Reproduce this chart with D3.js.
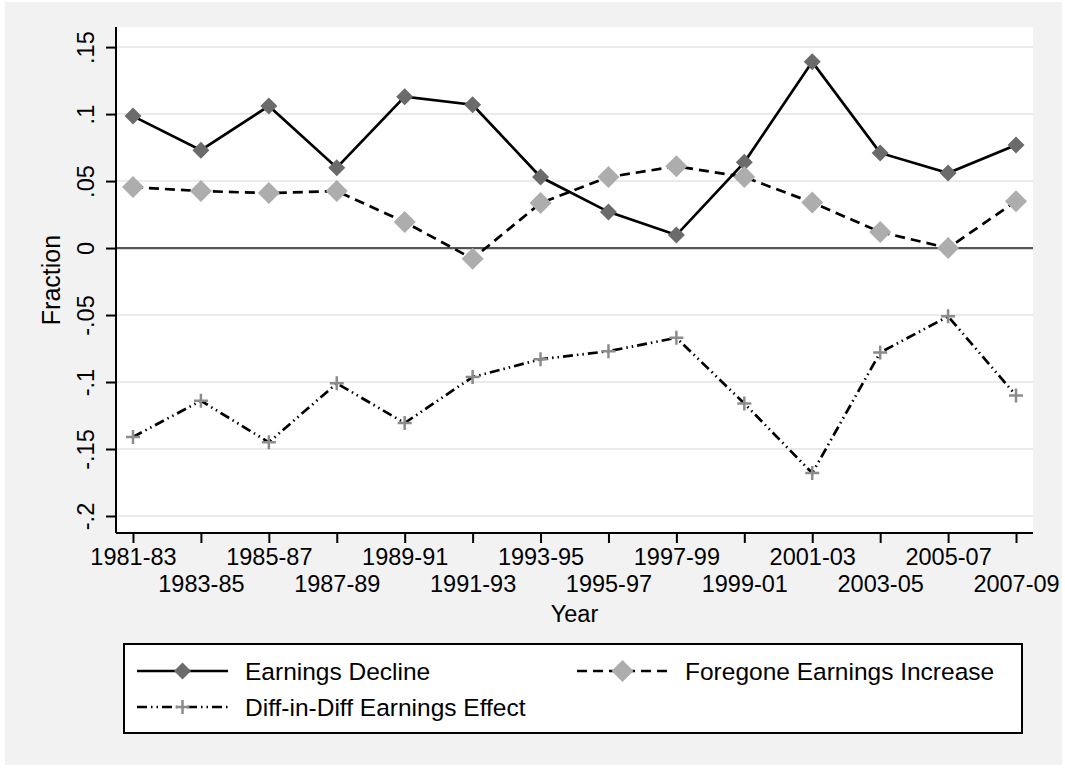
<!DOCTYPE html>
<html>
<head>
<meta charset="utf-8">
<script src="https://cdn.jsdelivr.net/npm/d3@7"></script>
<style>
  html, body { margin: 0; padding: 0; background: #ffffff; }
  svg { display: block; }
  text { font-family: "Liberation Sans", Arial, Helvetica, sans-serif; fill: #000; }
</style>
</head>
<body>
<svg id="chart" width="1065" height="768"></svg>
<script>
const categories = ["1981-83","1983-85","1985-87","1987-89","1989-91","1991-93","1993-95",
                    "1995-97","1997-99","1999-01","2001-03","2003-05","2005-07","2007-09"];
const earningsDecline = [0.0985, 0.073, 0.106, 0.060, 0.113, 0.107, 0.053,
                         0.027, 0.0097, 0.064, 0.139, 0.071, 0.056, 0.077];
const foregoneIncrease = [0.0455, 0.0425, 0.041, 0.0425, 0.0194, -0.008, 0.0336,
                          0.053, 0.061, 0.053, 0.034, 0.012, 0.0, 0.035];
const diffInDiff = [-0.141, -0.114, -0.145, -0.101, -0.1306, -0.0963, -0.083,
                    -0.077, -0.067, -0.116, -0.168, -0.078, -0.051, -0.110];
const yTicks = [-0.2, -0.15, -0.1, -0.05, 0, 0.05, 0.1, 0.15];
const yTickLabels = ["-.2", "-.15", "-.1", "-.05", "0", ".05", ".1", ".15"];
const legendLabels = ["Earnings Decline", "Foregone Earnings Increase", "Diff-in-Diff Earnings Effect"];
const axisTitles = { x: "Year", y: "Fraction" };

const svg = d3.select("#chart");
const plot = { left: 116, right: 1033, top: 27, bottom: 533 };
const fontSize = 23.5;
const legendFont = 24.5;

// outer background
svg.append("rect").attr("x", 5).attr("y", 2).attr("width", 1057).attr("height", 763).attr("fill", "#f2f2f2");
// plot region
svg.append("rect").attr("x", plot.left).attr("y", plot.top)
  .attr("width", plot.right - plot.left).attr("height", plot.bottom - plot.top).attr("fill", "#ffffff");

const x = d3.scalePoint().domain(categories).range([plot.left, plot.right]).padding(0.25);
const y = d3.scaleLinear().domain([-0.2127, 0.165]).range([plot.bottom, plot.top]);

// gridlines
svg.append("g").selectAll("line").data(yTicks.filter(d => d !== 0)).join("line")
  .attr("x1", plot.left).attr("x2", plot.right)
  .attr("y1", d => y(d)).attr("y2", d => y(d))
  .attr("stroke", "#eaeaea").attr("stroke-width", 2);

// zero line
svg.append("line").attr("x1", plot.left).attr("x2", plot.right)
  .attr("y1", y(0)).attr("y2", y(0)).attr("stroke", "#555555").attr("stroke-width", 2.2);

// Y axis
const yAxis = d3.axisLeft(y).tickValues(yTicks).tickSize(10).tickFormat((d, i) => yTickLabels[i]);
const gy = svg.append("g").attr("transform", `translate(${plot.left},0)`).call(yAxis);
gy.select(".domain").attr("stroke", "#000").attr("stroke-width", 2)
  .attr("d", `M0,${plot.top}V${plot.bottom}`);
gy.selectAll(".tick line").attr("stroke", "#000").attr("stroke-width", 2);
gy.selectAll(".tick text")
  .attr("x", null).attr("dy", null)
  .attr("transform", "translate(-22,0) rotate(-90)")
  .attr("text-anchor", "middle")
  .style("font-size", fontSize + "px")
  .style("font-family", '"Liberation Sans", Arial, Helvetica, sans-serif')
  .attr("fill", "#000");

// X axis
const xAxis = d3.axisBottom(x).tickSize(10);
const gx = svg.append("g").attr("transform", `translate(0,${plot.bottom})`).call(xAxis);
gx.select(".domain").attr("stroke", "#000").attr("stroke-width", 2)
  .attr("d", `M${plot.left},0H${plot.right}`);
gx.selectAll(".tick line").attr("stroke", "#000").attr("stroke-width", 2);
gx.selectAll(".tick text")
  .attr("dy", null)
  .attr("y", (d, i) => i % 2 === 0 ? 32 : 59)
  .style("font-size", fontSize + "px")
  .style("font-family", '"Liberation Sans", Arial, Helvetica, sans-serif')
  .attr("fill", "#000");

// axis titles
svg.append("text").attr("x", (plot.left + plot.right) / 2).attr("y", 622)
  .attr("text-anchor", "middle").style("font-size", fontSize + "px").text(axisTitles.x);
svg.append("text").attr("transform", `translate(60,${(plot.top + plot.bottom) / 2}) rotate(-90)`)
  .attr("text-anchor", "middle").style("font-size", "25px").text(axisTitles.y);

// series
const series = [
  { name: legendLabels[0], values: earningsDecline, dash: null, marker: "diamondDark" },
  { name: legendLabels[1], values: foregoneIncrease, dash: "10,6", marker: "diamondLight" },
  { name: legendLabels[2], values: diffInDiff, dash: "10,4,1.5,4,1.5,4", marker: "plus" }
];

const line = d3.line().x((d, i) => x(categories[i])).y(d => y(d));

function drawMarker(g, type, cx, cy) {
  if (type === "diamondDark") {
    const r = 8.5;
    g.append("path").attr("d", `M${cx},${cy - r}L${cx + r},${cy}L${cx},${cy + r}L${cx - r},${cy}Z`)
      .attr("fill", "#6b6b6b");
  } else if (type === "diamondLight") {
    const r = 11;
    g.append("path").attr("d", `M${cx},${cy - r}L${cx + r},${cy}L${cx},${cy + r}L${cx - r},${cy}Z`)
      .attr("fill", "#adadad");
  } else {
    const r = 7;
    g.append("path").attr("d", `M${cx - r},${cy}H${cx + r}M${cx},${cy - r}V${cy + r}`)
      .attr("stroke", "#8c8c8c").attr("stroke-width", 2.5).attr("fill", "none");
  }
}

series.forEach(s => {
  svg.append("path").datum(s.values).attr("d", line)
    .attr("fill", "none").attr("stroke", "#000").attr("stroke-width", 2.7)
    .attr("stroke-dasharray", s.dash);
  const mg = svg.append("g");
  s.values.forEach((v, i) => drawMarker(mg, s.marker, x(categories[i]), y(v)));
});

// legend
svg.append("rect").attr("x", 124).attr("y", 644).attr("width", 898).attr("height", 89)
  .attr("fill", "#ffffff").attr("stroke", "#000").attr("stroke-width", 2);

const legendItems = [
  { s: series[0], x0: 137, row: 0 },
  { s: series[1], x0: 577, row: 0 },
  { s: series[2], x0: 137, row: 1 }
];
legendItems.forEach(it => {
  const cy = it.row === 0 ? 671 : 707;
  const g = svg.append("g");
  g.append("line").attr("x1", it.x0).attr("x2", it.x0 + 91).attr("y1", cy).attr("y2", cy)
    .attr("stroke", "#000").attr("stroke-width", 2.7).attr("stroke-dasharray", it.s.dash);
  drawMarker(g, it.s.marker, it.x0 + 45.5, cy);
  g.append("text").attr("x", it.x0 + 108).attr("y", cy + 9)
    .style("font-size", legendFont + "px").text(it.s.name);
});
</script>
</body>
</html>
